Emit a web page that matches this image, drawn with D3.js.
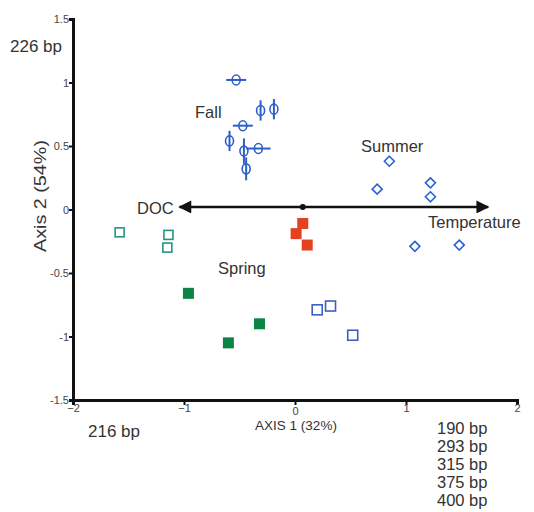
<!DOCTYPE html>
<html>
<head>
<meta charset="utf-8">
<script src="https://cdn.jsdelivr.net/npm/d3@7"></script>
<style>
  body { margin: 0; background: #fff; }
  svg { font-family: "Liberation Sans", Arial, sans-serif; }
</style>
</head>
<body>
<svg width="534" height="512"></svg>
<script>
// PCA ordination, axis 1 vs axis 2
const xTicks = [-2, -1, 0, 1, 2];
const yTicks = [-1.5, -1, -0.5, 0, 0.5, 1, 1.5];

// Fall: circles with error bars (x, y, xErr, yErr)
const fallX = [-0.53, -0.31, -0.19, -0.47, -0.59, -0.46, -0.33, -0.44];
const fallY = [1.02, 0.78, 0.79, 0.66, 0.54, 0.46, 0.48, 0.32];
const fallXErr = [0.09, 0, 0, 0.09, 0, 0, 0.11, 0];
const fallYErr = [0, 0.08, 0.08, 0, 0.08, 0.1, 0, 0.09];

// Summer: diamonds
const summerX = [0.85, 0.74, 1.22, 1.22, 1.08, 1.48];
const summerY = [0.38, 0.16, 0.21, 0.1, -0.29, -0.28];

// red filled squares
const redX = [0.07, 0.01, 0.11];
const redY = [-0.11, -0.19, -0.28];

// Spring: open green, filled green, open blue squares
const greenOpenX = [-1.58, -1.14, -1.15];
const greenOpenY = [-0.18, -0.2, -0.3];
const greenFillX = [-0.96, -0.32, -0.6];
const greenFillY = [-0.66, -0.9, -1.05];
const blueSqX = [0.2, 0.32, 0.52];
const blueSqY = [-0.79, -0.76, -0.99];

// environmental vector: DOC <- origin -> Temperature
const arrowX = [-1.04, 1.74];
const arrowY = 0.02;
const originPt = [0.07, 0.02];

const leftLabels = ['226 bp'];
const bottomLabels = ['216 bp'];
const rightLabels = ['190 bp', '293 bp', '315 bp', '375 bp', '400 bp'];

const svg = d3.select('svg');

const xScale = d3.scaleLinear().domain([-2, 2]).range([73, 517]);
const yScale = d3.scaleLinear().domain([-1.5, 1.5]).range([400, 19]);

// axes
const xAxis = d3.axisBottom(xScale).tickValues(xTicks).tickSize(5).tickFormat(d3.format('d'));
const yAxis = d3.axisLeft(yScale).tickValues(yTicks).tickSize(4).tickFormat(d => d);

const gx = svg.append('g').attr('transform', 'translate(0,400)').call(xAxis);
const gy = svg.append('g').attr('transform', 'translate(73,0)').call(yAxis);

[gx, gy].forEach(g => {
  g.select('.domain').attr('stroke', '#111').attr('stroke-width', 3);
  g.selectAll('.tick line').attr('stroke', '#111').attr('stroke-width', 2);
  g.selectAll('.tick text').attr('fill', '#444').style('font-size', '11px');
});
// the 0 label sits just above the axis title, as in the original
gx.selectAll('.tick text').attr('y', d => d === 0 ? 7 : 4).attr('dy', '0.71em');
gy.selectAll('.tick text').attr('x', -4);

// axis titles
svg.append('text')
  .attr('x', 296).attr('y', 430)
  .attr('text-anchor', 'middle')
  .attr('fill', '#333')
  .style('font-size', '13.5px')
  .text('AXIS 1 (32%)');

svg.append('text')
  .attr('transform', 'translate(46,196) rotate(-90)')
  .attr('text-anchor', 'middle')
  .attr('fill', '#333')
  .attr('textLength', 112)
  .attr('lengthAdjust', 'spacingAndGlyphs')
  .style('font-size', '17px')
  .text('Axis 2 (54%)');

// bp labels
svg.append('text').attr('x', 10).attr('y', 52).attr('fill', '#333')
  .style('font-size', '17px').text(leftLabels[0]);
svg.append('text').attr('x', 88).attr('y', 437).attr('fill', '#333')
  .style('font-size', '17px').text(bottomLabels[0]);
svg.selectAll('.rlab')
  .data(rightLabels)
  .enter()
  .append('text')
  .attr('class', 'rlab')
  .attr('x', 437)
  .attr('y', (d, i) => 434 + i * 18.1)
  .attr('fill', '#333')
  .style('font-size', '16.5px')
  .text(d => d);

// arrow
const defs = svg.append('defs');
defs.append('marker')
  .attr('id', 'head')
  .attr('viewBox', '0 0 10 10')
  .attr('refX', 9).attr('refY', 5)
  .attr('markerWidth', 6.5).attr('markerHeight', 5)
  .attr('markerUnits', 'strokeWidth')
  .attr('orient', 'auto-start-reverse')
  .append('path')
  .attr('d', 'M0,0 L10,5 L0,10 Z')
  .attr('fill', '#111');

svg.append('line')
  .attr('x1', xScale(arrowX[0])).attr('x2', xScale(arrowX[1]))
  .attr('y1', yScale(arrowY)).attr('y2', yScale(arrowY))
  .attr('stroke', '#111').attr('stroke-width', 2.6)
  .attr('marker-start', 'url(#head)')
  .attr('marker-end', 'url(#head)');

svg.append('circle')
  .attr('cx', xScale(originPt[0])).attr('cy', yScale(originPt[1]))
  .attr('r', 3).attr('fill', '#111');

// group labels
const groupLabels = [
  { t: 'DOC', x: 137, y: 214 },
  { t: 'Temperature', x: 428, y: 228 },
  { t: 'Summer', x: 361, y: 152 },
  { t: 'Fall', x: 195, y: 118 },
  { t: 'Spring', x: 218, y: 274 }
];
svg.selectAll('.glab')
  .data(groupLabels)
  .enter()
  .append('text')
  .attr('class', 'glab')
  .attr('x', d => d.x).attr('y', d => d.y)
  .attr('fill', '#333')
  .style('font-size', '16.5px')
  .text(d => d.t);

// red filled squares
const sq = 11;
svg.selectAll('.red')
  .data(redX.map((x, i) => [x, redY[i]]))
  .enter()
  .append('rect')
  .attr('x', d => xScale(d[0]) - sq / 2)
  .attr('y', d => yScale(d[1]) - sq / 2)
  .attr('width', sq).attr('height', sq)
  .attr('fill', '#e2421f');

// green open squares
svg.selectAll('.gopen')
  .data(greenOpenX.map((x, i) => [x, greenOpenY[i]]))
  .enter()
  .append('rect')
  .attr('x', d => xScale(d[0]) - 4.5)
  .attr('y', d => yScale(d[1]) - 4.5)
  .attr('width', 9).attr('height', 9)
  .attr('fill', 'none').attr('stroke', '#25957a').attr('stroke-width', 1.6);

// green filled squares
svg.selectAll('.gfill')
  .data(greenFillX.map((x, i) => [x, greenFillY[i]]))
  .enter()
  .append('rect')
  .attr('x', d => xScale(d[0]) - 5.5)
  .attr('y', d => yScale(d[1]) - 5.5)
  .attr('width', 11).attr('height', 11)
  .attr('fill', '#0b8445');

// blue open squares
svg.selectAll('.bsq')
  .data(blueSqX.map((x, i) => [x, blueSqY[i]]))
  .enter()
  .append('rect')
  .attr('x', d => xScale(d[0]) - 5)
  .attr('y', d => yScale(d[1]) - 5)
  .attr('width', 10).attr('height', 10)
  .attr('fill', 'none').attr('stroke', '#3d5fc4').attr('stroke-width', 1.6);

// summer diamonds
svg.selectAll('.dia')
  .data(summerX.map((x, i) => [x, summerY[i]]))
  .enter()
  .append('path')
  .attr('transform', d => `translate(${xScale(d[0])},${yScale(d[1])})`)
  .attr('d', 'M0,-5 L5,0 L0,5 L-5,0 Z')
  .attr('fill', 'none').attr('stroke', '#2d63cf').attr('stroke-width', 1.6);

// fall circles with error bars
const fall = fallX.map((x, i) => ({ x, y: fallY[i], ex: fallXErr[i], ey: fallYErr[i] }));
const fg = svg.selectAll('.fall')
  .data(fall)
  .enter()
  .append('g');

fg.filter(d => d.ex > 0).append('line')
  .attr('x1', d => xScale(d.x - d.ex)).attr('x2', d => xScale(d.x + d.ex))
  .attr('y1', d => yScale(d.y)).attr('y2', d => yScale(d.y))
  .attr('stroke', '#2d5fc8').attr('stroke-width', 2);
fg.filter(d => d.ey > 0).append('line')
  .attr('x1', d => xScale(d.x)).attr('x2', d => xScale(d.x))
  .attr('y1', d => yScale(d.y - d.ey)).attr('y2', d => yScale(d.y + d.ey))
  .attr('stroke', '#2d5fc8').attr('stroke-width', 2);
fg.append('ellipse')
  .attr('cx', d => xScale(d.x)).attr('cy', d => yScale(d.y))
  .attr('rx', 4).attr('ry', 5)
  .attr('fill', 'none').attr('stroke', '#2d5fc8').attr('stroke-width', 1.6);
</script>
</body>
</html>
